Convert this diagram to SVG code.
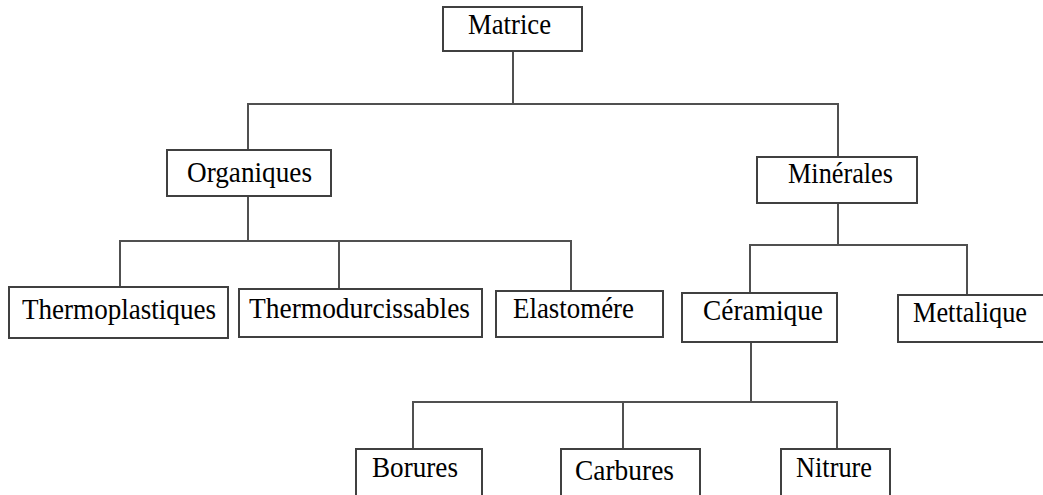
<svg xmlns="http://www.w3.org/2000/svg" width="1043" height="495" viewBox="0 0 1043 495">
<style>
.box{fill:#fff;stroke:#404040;stroke-width:2}
.lbl{font-family:"Liberation Serif","Times New Roman",serif;font-size:29px;fill:#000}
.conn line{stroke:#505050;stroke-width:2;fill:none}
</style>
<rect width="1043" height="495" fill="#fff"/>
<g class="conn" id="connectors">
<line x1="513" y1="51" x2="513" y2="104"/>
<line x1="247" y1="104" x2="839" y2="104"/>
<line x1="248" y1="104" x2="248" y2="150"/>
<line x1="838" y1="104" x2="838" y2="157"/>
<line x1="248" y1="196" x2="248" y2="241"/>
<line x1="119" y1="241" x2="572" y2="241"/>
<line x1="120" y1="241" x2="120" y2="287"/>
<line x1="339" y1="241" x2="339" y2="289"/>
<line x1="571" y1="241" x2="571" y2="291"/>
<line x1="838" y1="203" x2="838" y2="245"/>
<line x1="749" y1="245" x2="968" y2="245"/>
<line x1="750" y1="245" x2="750" y2="293"/>
<line x1="967" y1="245" x2="967" y2="295"/>
<line x1="751" y1="342" x2="751" y2="402"/>
<line x1="412" y1="402" x2="838" y2="402"/>
<line x1="413" y1="402" x2="413" y2="449"/>
<line x1="623" y1="402" x2="623" y2="449"/>
<line x1="837" y1="402" x2="837" y2="449"/>
</g>
<g id="matrice"><rect class="box" x="443" y="7" width="139" height="44"/><text class="lbl" x="468" y="34" textLength="83" lengthAdjust="spacingAndGlyphs">Matrice</text></g>
<g id="organiques"><rect class="box" x="167" y="150" width="164" height="46"/><text class="lbl" x="187" y="182" textLength="125" lengthAdjust="spacingAndGlyphs">Organiques</text></g>
<g id="minerales"><rect class="box" x="757" y="157" width="160" height="46"/><text class="lbl" x="788" y="183" textLength="105" lengthAdjust="spacingAndGlyphs">Minérales</text></g>
<g id="thermoplastiques"><rect class="box" x="9" y="287" width="219" height="51"/><text class="lbl" x="22" y="319" textLength="194" lengthAdjust="spacingAndGlyphs">Thermoplastiques</text></g>
<g id="thermodurcissables"><rect class="box" x="239" y="289" width="243" height="48"/><text class="lbl" x="249" y="318" textLength="221" lengthAdjust="spacingAndGlyphs">Thermodurcissables</text></g>
<g id="elastomere"><rect class="box" x="496" y="291" width="167" height="46"/><text class="lbl" x="513" y="318" textLength="121" lengthAdjust="spacingAndGlyphs">Elastomére</text></g>
<g id="ceramique"><rect class="box" x="682" y="293" width="155" height="49"/><text class="lbl" x="703" y="320" textLength="120" lengthAdjust="spacingAndGlyphs">Céramique</text></g>
<g id="mettalique"><rect class="box" x="898" y="295" width="160" height="47"/><text class="lbl" x="913" y="322" textLength="114" lengthAdjust="spacingAndGlyphs">Mettalique</text></g>
<g id="borures"><rect class="box" x="356" y="449" width="126" height="60"/><text class="lbl" x="372" y="477" textLength="86" lengthAdjust="spacingAndGlyphs">Borures</text></g>
<g id="carbures"><rect class="box" x="561" y="449" width="139" height="60"/><text class="lbl" x="575" y="480" textLength="99" lengthAdjust="spacingAndGlyphs">Carbures</text></g>
<g id="nitrure"><rect class="box" x="781" y="449" width="109" height="60"/><text class="lbl" x="796" y="477" textLength="76" lengthAdjust="spacingAndGlyphs">Nitrure</text></g>
</svg>
